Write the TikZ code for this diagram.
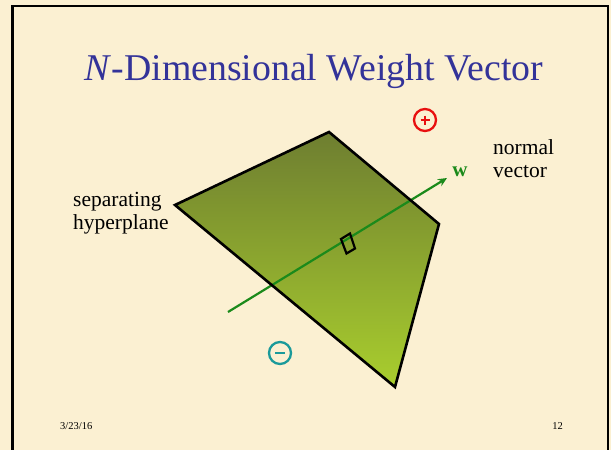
\documentclass[tikz,border=0pt]{standalone}
\usepackage{fontspec}
\setmainfont{Liberation Serif}
\definecolor{parchment}{HTML}{FBF0D2}
\definecolor{titleblue}{HTML}{333399}
\definecolor{planetop}{HTML}{6E7E30}
\definecolor{planebot}{HTML}{A9CE2E}
\definecolor{vecgreen}{HTML}{1B8A1B}
\definecolor{plusred}{HTML}{E81010}
\definecolor{minusteal}{HTML}{1A9A9A}
\usetikzlibrary{arrows.meta}

\begin{document}
\begin{tikzpicture}[x=1pt, y=-1pt,
    label text/.style={font=\fontsize{21.5}{23}\selectfont, align=left,
        inner sep=0pt, anchor=base west},
    footer/.style={font=\fontsize{10.5}{12}\selectfont, inner sep=0pt},
    sign/.style={circle, line width=2.3pt, minimum size=22pt, inner sep=0pt}]
    \useasboundingbox (0,0) rectangle (611,450);
    \fill[parchment] (0,0) rectangle (611,450);
    \draw[line width=2.5pt] (12.5,452) -- (12.5,6) -- (608,6) -- (608,452);

    \node[text=titleblue, font=\fontsize{37.8}{40}\selectfont, anchor=base] (title) at (314,80)
        {\textit{N}-Dimensional Weight Vector};

    % Die Ebene mit Farbverlauf von oben (dunkel) nach unten (hell).
    \coordinate (p-left) at (175,205);
    \coordinate (p-top) at (329,132);
    \coordinate (p-right) at (439,224);
    \coordinate (p-bot) at (395,387);
    \shade[top color=planetop, bottom color=planebot, shading angle=0]
        (p-left) -- (p-top) -- (p-right) -- (p-bot) -- cycle;

    \coordinate (w-start) at (228,312);
    \coordinate (w-end) at (447,178);
    \draw[vecgreen, line width=2.2pt, -{Stealth[length=9pt, width=8pt]}]
        (w-start) -- (w-end);
    \draw[line width=2.6pt, line join=miter]
        (p-left) -- (p-top) -- (p-right) -- (p-bot) -- cycle;

    \draw[line width=2.2pt] (341,239) -- (350,233.5) -- (355,248.5) -- (346.5,253.5) -- cycle;

    \node[text=vecgreen, font=\fontsize{21}{23}\selectfont\bfseries, anchor=base] (w) at (460,176) {w};
    \node[label text] (normal) at (493,177) {normal\\vector};
    \node[label text] (sep) at (73,229.5) {separating\\hyperplane};

    \node[sign, draw=plusred] (plus) at (425,120) {};
    \draw[plusred, line width=2.2pt] (plus.center) ++(-4.5,0) -- ++(9,0)
        (plus.center) ++(0,-4.5) -- ++(0,9);
    \node[sign, draw=minusteal] (minus) at (280,353) {};
    \draw[minusteal, line width=2.2pt] (minus.center) ++(-5,0) -- ++(10,0);

    \node[footer, anchor=base west] (date) at (60,429) {3/23/16};
    \node[footer, anchor=base east] (page) at (563,429) {12};
\end{tikzpicture}
\end{document}
